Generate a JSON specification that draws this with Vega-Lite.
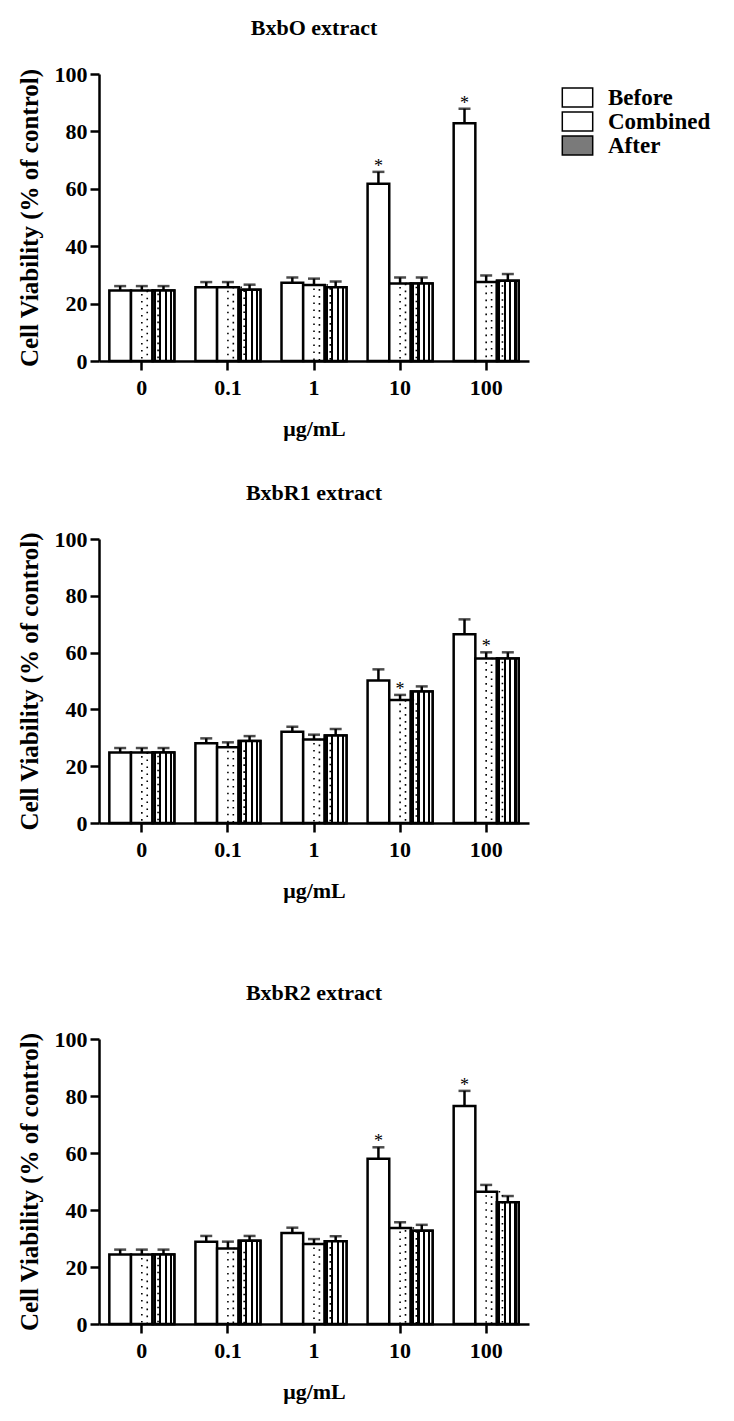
{
  "$schema": "https://vega.github.io/schema/vega-lite/v6.json",
  "background": "white",
  "padding": {"left": 16, "top": 17, "right": 5, "bottom": 5},
  "config": {
    "font": "Liberation Serif",
    "view": {"stroke": null},
    "axis": {
      "grid": false,
      "domainColor": "black", "domainWidth": 2.5,
      "tickColor": "black", "tickWidth": 2.5, "tickSize": 9,
      "labelFont": "Liberation Serif", "labelFontWeight": "bold", "labelFontSize": 22, "labelColor": "black",
      "titleFont": "Liberation Serif", "titleFontWeight": "bold", "titleFontSize": 22, "titleColor": "black"
    },
    "axisX": {"labelAngle": 0, "labelPadding": 7, "titlePadding": 20},
    "axisY": {"labelPadding": 3, "titlePadding": 12, "titleFontSize": 25},
    "title": {"font": "Liberation Serif", "fontWeight": "bold", "fontSize": 22, "color": "black", "anchor": "middle", "offset": 23}
  },
  "datasets": {
    "bxbo": [
      {"dose": "0", "treatment": "Before", "mean": 24.6, "upper": 26.1, "sig": ""},
      {"dose": "0", "treatment": "Combined", "mean": 24.6, "upper": 26.1, "sig": ""},
      {"dose": "0", "treatment": "After", "mean": 24.6, "upper": 26.1, "sig": ""},
      {"dose": "0.1", "treatment": "Before", "mean": 25.7, "upper": 27.5, "sig": ""},
      {"dose": "0.1", "treatment": "Combined", "mean": 25.7, "upper": 27.5, "sig": ""},
      {"dose": "0.1", "treatment": "After", "mean": 24.8, "upper": 26.6, "sig": ""},
      {"dose": "1", "treatment": "Before", "mean": 27.3, "upper": 29.1, "sig": ""},
      {"dose": "1", "treatment": "Combined", "mean": 26.5, "upper": 28.7, "sig": ""},
      {"dose": "1", "treatment": "After", "mean": 25.7, "upper": 27.7, "sig": ""},
      {"dose": "10", "treatment": "Before", "mean": 61.8, "upper": 65.9, "sig": "*"},
      {"dose": "10", "treatment": "Combined", "mean": 27.0, "upper": 29.1, "sig": ""},
      {"dose": "10", "treatment": "After", "mean": 27.0, "upper": 29.1, "sig": ""},
      {"dose": "100", "treatment": "Before", "mean": 82.8, "upper": 87.9, "sig": "*"},
      {"dose": "100", "treatment": "Combined", "mean": 27.5, "upper": 29.8, "sig": ""},
      {"dose": "100", "treatment": "After", "mean": 28.0, "upper": 30.3, "sig": ""}
    ],
    "bxbr1": [
      {"dose": "0", "treatment": "Before", "mean": 24.8, "upper": 26.4, "sig": ""},
      {"dose": "0", "treatment": "Combined", "mean": 24.8, "upper": 26.4, "sig": ""},
      {"dose": "0", "treatment": "After", "mean": 24.8, "upper": 26.4, "sig": ""},
      {"dose": "0.1", "treatment": "Before", "mean": 28.1, "upper": 29.8, "sig": ""},
      {"dose": "0.1", "treatment": "Combined", "mean": 26.7, "upper": 28.4, "sig": ""},
      {"dose": "0.1", "treatment": "After", "mean": 28.9, "upper": 30.6, "sig": ""},
      {"dose": "1", "treatment": "Before", "mean": 32.1, "upper": 33.9, "sig": ""},
      {"dose": "1", "treatment": "Combined", "mean": 29.4, "upper": 31.1, "sig": ""},
      {"dose": "1", "treatment": "After", "mean": 30.8, "upper": 33.1, "sig": ""},
      {"dose": "10", "treatment": "Before", "mean": 50.2, "upper": 54.1, "sig": ""},
      {"dose": "10", "treatment": "Combined", "mean": 43.3, "upper": 45.1, "sig": "*"},
      {"dose": "10", "treatment": "After", "mean": 46.3, "upper": 48.1, "sig": ""},
      {"dose": "100", "treatment": "Before", "mean": 66.5, "upper": 71.7, "sig": ""},
      {"dose": "100", "treatment": "Combined", "mean": 57.9, "upper": 60.1, "sig": "*"},
      {"dose": "100", "treatment": "After", "mean": 57.9, "upper": 60.1, "sig": ""}
    ],
    "bxbr2": [
      {"dose": "0", "treatment": "Before", "mean": 24.4, "upper": 26.1, "sig": ""},
      {"dose": "0", "treatment": "Combined", "mean": 24.4, "upper": 26.1, "sig": ""},
      {"dose": "0", "treatment": "After", "mean": 24.4, "upper": 26.1, "sig": ""},
      {"dose": "0.1", "treatment": "Before", "mean": 28.9, "upper": 30.9, "sig": ""},
      {"dose": "0.1", "treatment": "Combined", "mean": 26.5, "upper": 28.9, "sig": ""},
      {"dose": "0.1", "treatment": "After", "mean": 29.2, "upper": 30.9, "sig": ""},
      {"dose": "1", "treatment": "Before", "mean": 31.9, "upper": 33.8, "sig": ""},
      {"dose": "1", "treatment": "Combined", "mean": 28.1, "upper": 29.8, "sig": ""},
      {"dose": "1", "treatment": "After", "mean": 29.0, "upper": 30.8, "sig": ""},
      {"dose": "10", "treatment": "Before", "mean": 58.0, "upper": 62.0, "sig": "*"},
      {"dose": "10", "treatment": "Combined", "mean": 33.7, "upper": 35.7, "sig": ""},
      {"dose": "10", "treatment": "After", "mean": 32.7, "upper": 34.8, "sig": ""},
      {"dose": "100", "treatment": "Before", "mean": 76.5, "upper": 81.8, "sig": "*"},
      {"dose": "100", "treatment": "Combined", "mean": 46.4, "upper": 48.8, "sig": ""},
      {"dose": "100", "treatment": "After", "mean": 42.7, "upper": 44.9, "sig": ""}
    ]
  },
  "resolve": {"scale": {"fill": "independent"}},
  "spacing": 81,
  "vconcat": [
    {
      "resolve": {"scale": {"fill": "independent"}},
      "spacing": 43,
      "vconcat": [
        {
          "title": "BxbO extract",
          "width": 430, "height": 287,
          "data": {"name": "bxbo"},
          "encoding": {
            "x": {"field": "dose", "type": "nominal", "sort": ["0", "0.1", "1", "10", "100"], "scale": {"paddingInner": 0.245, "paddingOuter": 0.12}, "axis": {"title": "μg/mL"}},
            "xOffset": {"field": "treatment", "type": "nominal", "sort": ["Before", "Combined", "After"], "scale": {"paddingInner": 0, "paddingOuter": 0}}
          },
          "layer": [
            {
              "mark": {"type": "bar", "stroke": "black", "strokeWidth": 2.5},
              "encoding": {
                "y": {"field": "mean", "type": "quantitative", "scale": {"domain": [0, 100]}, "axis": {"values": [0, 20, 40, 60, 80, 100], "title": "Cell Viability (% of control)"}},
                "fill": {"field": "treatment", "type": "nominal", "sort": ["Before", "Combined", "After"],
                  "scale": {"domain": ["Before", "Combined", "After"], "range": ["white", "white", "#7a7a7a"]},
                  "legend": {"title": null, "orient": "right", "offset": 25, "padding": 12,
                    "symbolType": "M-1.6,-1H1.6V1H-1.6Z", "symbolSize": 361,
                    "labelFont": "Liberation Serif", "labelFontWeight": "bold", "labelFontSize": 23, "labelColor": "black",
                    "labelOffset": 19, "rowPadding": -9,
                    "encode": {
                      "symbols": {"update": {
                        "shape": {"value": "M-1.6,-1H1.6V1H-1.6Z"},
                        "size": {"value": 361},
                        "stroke": {"value": "black"},
                        "strokeWidth": {"value": 2.5},
                        "opacity": {"value": 1},
                        "fillOpacity": {"value": 1},
                        "strokeOpacity": {"value": 1}
                      }}}}}
              }
            },
            {
              "transform": [{"filter": "datum.treatment === 'After'"}],
              "mark": {"type": "bar", "stroke": "black", "strokeWidth": 2.5,
                "fill": {"gradient": "linear", "x1": 0, "y1": 0, "x2": 1, "y2": 0, "stops": [
                  {"offset": 0, "color": "white"}, {"offset": 0.05, "color": "white"},
                  {"offset": 0.05, "color": "black"}, {"offset": 0.15, "color": "black"},
                  {"offset": 0.15, "color": "white"}, {"offset": 0.3, "color": "white"},
                  {"offset": 0.3, "color": "black"}, {"offset": 0.4, "color": "black"},
                  {"offset": 0.4, "color": "white"}, {"offset": 0.55, "color": "white"},
                  {"offset": 0.55, "color": "black"}, {"offset": 0.65, "color": "black"},
                  {"offset": 0.65, "color": "white"}, {"offset": 0.8, "color": "white"},
                  {"offset": 0.8, "color": "black"}, {"offset": 0.9, "color": "black"},
                  {"offset": 0.9, "color": "white"}, {"offset": 1, "color": "white"}]}},
              "encoding": {"y": {"field": "mean", "type": "quantitative"}}
            },
            {
              "transform": [{"filter": "datum.treatment === 'Combined'"}],
              "mark": {"type": "bar", "filled": false, "stroke": "black", "strokeWidth": 1.6, "strokeDash": [1.6, 5.4], "width": {"band": 0.5}},
              "encoding": {"y": {"field": "mean", "type": "quantitative"}}
            },
            {
              "transform": [{"filter": "datum.treatment === 'Combined'"}],
              "mark": {"type": "rule", "stroke": "black", "strokeWidth": 1.6, "strokeDash": [1.6, 5.4], "strokeDashOffset": 3.5},
              "encoding": {"y": {"field": "mean", "type": "quantitative"}, "y2": {"datum": 0}}
            },
            {
              "mark": {"type": "rule", "stroke": "black", "strokeWidth": 2.5},
              "encoding": {"y": {"field": "mean", "type": "quantitative"}, "y2": {"field": "upper"}}
            },
            {
              "mark": {"type": "tick", "color": "black", "size": 12, "thickness": 2.5, "orient": "horizontal"},
              "encoding": {"y": {"field": "upper", "type": "quantitative"}}
            },
            {
              "transform": [{"filter": "datum.sig === '*'"}],
              "mark": {"type": "text", "font": "Liberation Serif", "fontSize": 18, "color": "black", "baseline": "alphabetic"},
              "encoding": {"y": {"field": "upper", "type": "quantitative"}, "text": {"field": "sig"}}
            }
          ]
        },
        {
          "title": "BxbR1 extract",
          "width": 430, "height": 284,
          "data": {"name": "bxbr1"},
          "encoding": {
            "x": {"field": "dose", "type": "nominal", "sort": ["0", "0.1", "1", "10", "100"], "scale": {"paddingInner": 0.245, "paddingOuter": 0.12}, "axis": {"title": "μg/mL"}},
            "xOffset": {"field": "treatment", "type": "nominal", "sort": ["Before", "Combined", "After"], "scale": {"paddingInner": 0, "paddingOuter": 0}}
          },
          "layer": [
            {
              "mark": {"type": "bar", "stroke": "black", "strokeWidth": 2.5, "fill": "white"},
              "encoding": {
                "y": {"field": "mean", "type": "quantitative", "scale": {"domain": [0, 100]}, "axis": {"values": [0, 20, 40, 60, 80, 100], "title": "Cell Viability (% of control)"}}
              }
            },
            {
              "transform": [{"filter": "datum.treatment === 'After'"}],
              "mark": {"type": "bar", "stroke": "black", "strokeWidth": 2.5,
                "fill": {"gradient": "linear", "x1": 0, "y1": 0, "x2": 1, "y2": 0, "stops": [
                  {"offset": 0, "color": "white"}, {"offset": 0.05, "color": "white"},
                  {"offset": 0.05, "color": "black"}, {"offset": 0.15, "color": "black"},
                  {"offset": 0.15, "color": "white"}, {"offset": 0.3, "color": "white"},
                  {"offset": 0.3, "color": "black"}, {"offset": 0.4, "color": "black"},
                  {"offset": 0.4, "color": "white"}, {"offset": 0.55, "color": "white"},
                  {"offset": 0.55, "color": "black"}, {"offset": 0.65, "color": "black"},
                  {"offset": 0.65, "color": "white"}, {"offset": 0.8, "color": "white"},
                  {"offset": 0.8, "color": "black"}, {"offset": 0.9, "color": "black"},
                  {"offset": 0.9, "color": "white"}, {"offset": 1, "color": "white"}]}},
              "encoding": {"y": {"field": "mean", "type": "quantitative"}}
            },
            {
              "transform": [{"filter": "datum.treatment === 'Combined'"}],
              "mark": {"type": "bar", "filled": false, "stroke": "black", "strokeWidth": 1.6, "strokeDash": [1.6, 5.4], "width": {"band": 0.5}},
              "encoding": {"y": {"field": "mean", "type": "quantitative"}}
            },
            {
              "transform": [{"filter": "datum.treatment === 'Combined'"}],
              "mark": {"type": "rule", "stroke": "black", "strokeWidth": 1.6, "strokeDash": [1.6, 5.4], "strokeDashOffset": 3.5},
              "encoding": {"y": {"field": "mean", "type": "quantitative"}, "y2": {"datum": 0}}
            },
            {
              "mark": {"type": "rule", "stroke": "black", "strokeWidth": 2.5},
              "encoding": {"y": {"field": "mean", "type": "quantitative"}, "y2": {"field": "upper"}}
            },
            {
              "mark": {"type": "tick", "color": "black", "size": 12, "thickness": 2.5, "orient": "horizontal"},
              "encoding": {"y": {"field": "upper", "type": "quantitative"}}
            },
            {
              "transform": [{"filter": "datum.sig === '*'"}],
              "mark": {"type": "text", "font": "Liberation Serif", "fontSize": 18, "color": "black", "baseline": "alphabetic"},
              "encoding": {"y": {"field": "upper", "type": "quantitative"}, "text": {"field": "sig"}}
            }
          ]
        }
      ]
    },
    {
      "title": "BxbR2 extract",
      "width": 430, "height": 285,
      "data": {"name": "bxbr2"},
      "encoding": {
        "x": {"field": "dose", "type": "nominal", "sort": ["0", "0.1", "1", "10", "100"], "scale": {"paddingInner": 0.245, "paddingOuter": 0.12}, "axis": {"title": "μg/mL"}},
        "xOffset": {"field": "treatment", "type": "nominal", "sort": ["Before", "Combined", "After"], "scale": {"paddingInner": 0, "paddingOuter": 0}}
      },
      "layer": [
        {
          "mark": {"type": "bar", "stroke": "black", "strokeWidth": 2.5, "fill": "white"},
          "encoding": {
            "y": {"field": "mean", "type": "quantitative", "scale": {"domain": [0, 100]}, "axis": {"values": [0, 20, 40, 60, 80, 100], "title": "Cell Viability (% of control)"}}
          }
        },
        {
          "transform": [{"filter": "datum.treatment === 'After'"}],
          "mark": {"type": "bar", "stroke": "black", "strokeWidth": 2.5,
            "fill": {"gradient": "linear", "x1": 0, "y1": 0, "x2": 1, "y2": 0, "stops": [
              {"offset": 0, "color": "white"}, {"offset": 0.05, "color": "white"},
              {"offset": 0.05, "color": "black"}, {"offset": 0.15, "color": "black"},
              {"offset": 0.15, "color": "white"}, {"offset": 0.3, "color": "white"},
              {"offset": 0.3, "color": "black"}, {"offset": 0.4, "color": "black"},
              {"offset": 0.4, "color": "white"}, {"offset": 0.55, "color": "white"},
              {"offset": 0.55, "color": "black"}, {"offset": 0.65, "color": "black"},
              {"offset": 0.65, "color": "white"}, {"offset": 0.8, "color": "white"},
              {"offset": 0.8, "color": "black"}, {"offset": 0.9, "color": "black"},
              {"offset": 0.9, "color": "white"}, {"offset": 1, "color": "white"}]}},
          "encoding": {"y": {"field": "mean", "type": "quantitative"}}
        },
        {
          "transform": [{"filter": "datum.treatment === 'Combined'"}],
          "mark": {"type": "bar", "filled": false, "stroke": "black", "strokeWidth": 1.6, "strokeDash": [1.6, 5.4], "width": {"band": 0.5}},
          "encoding": {"y": {"field": "mean", "type": "quantitative"}}
        },
        {
          "transform": [{"filter": "datum.treatment === 'Combined'"}],
          "mark": {"type": "rule", "stroke": "black", "strokeWidth": 1.6, "strokeDash": [1.6, 5.4], "strokeDashOffset": 3.5},
          "encoding": {"y": {"field": "mean", "type": "quantitative"}, "y2": {"datum": 0}}
        },
        {
          "mark": {"type": "rule", "stroke": "black", "strokeWidth": 2.5},
          "encoding": {"y": {"field": "mean", "type": "quantitative"}, "y2": {"field": "upper"}}
        },
        {
          "mark": {"type": "tick", "color": "black", "size": 12, "thickness": 2.5, "orient": "horizontal"},
          "encoding": {"y": {"field": "upper", "type": "quantitative"}}
        },
        {
          "transform": [{"filter": "datum.sig === '*'"}],
          "mark": {"type": "text", "font": "Liberation Serif", "fontSize": 18, "color": "black", "baseline": "alphabetic"},
          "encoding": {"y": {"field": "upper", "type": "quantitative"}, "text": {"field": "sig"}}
        }
      ]
    }
  ]
}
